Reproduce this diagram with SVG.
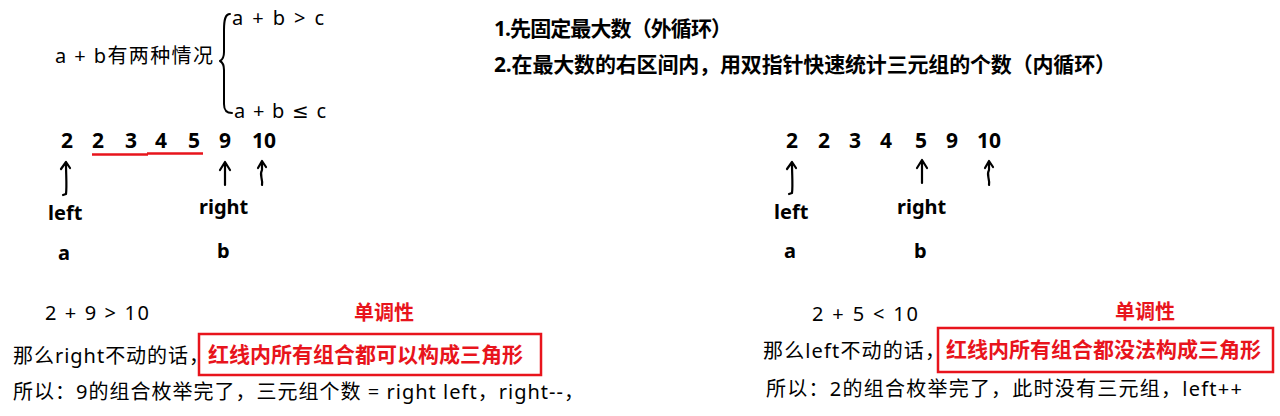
<svg xmlns="http://www.w3.org/2000/svg" width="1280" height="416" viewBox="0 0 1280 416">
<style>
text{font-family:"Noto Sans","Noto Sans CJK SC",sans-serif;fill:#000}
.r{font-size:20px}
.b{font-size:20px;font-weight:bold}
.st{font-size:21px;font-weight:bold}
.num{font-size:21px;font-weight:bold}
.red{fill:#e8141c;font-weight:bold;font-size:21px}
.box{fill:none;stroke:#e8141c;stroke-width:2.5}
.ul{stroke:#e8141c;stroke-width:2.5;fill:none}
.ar{fill:none;stroke:#000;stroke-width:2.2;stroke-linecap:round;stroke-linejoin:round}
.sym{font-family:"DejaVu Sans",sans-serif}
</style>
<rect width="1280" height="416" fill="#fff"/>
<g id="cases">
<text class="r" x="55" y="63" textLength="158">a + b有两种情况</text>
<path class="ar" d="M230,14 C225,14 224,20 224,30 L224,52 C224,58 222,60 220,61 C222,62 224,64 224,70 L224,104 C224,110 226,113 232,113" style="stroke-width:2"/>
<text class="r" x="232" y="25" textLength="92">a + b &gt; c</text>
<text class="r" x="234" y="118" textLength="92">a + b <tspan class="sym">≤</tspan> c</text>
</g>
<g id="steps">
<text class="st" x="494" y="36" textLength="238">1.先固定最大数（外循环）</text>
<text class="st" x="494" y="72" textLength="622">2.在最大数的右区间内，用双指针快速统计三元组的个数（内循环）</text>
</g>
<g id="left-array">
<text class="num" x="61" y="148">2</text>
<text class="num" x="92" y="148">2</text>
<text class="num" x="125" y="148">3</text>
<text class="num" x="155" y="148">4</text>
<text class="num" x="188" y="148">5</text>
<text class="num" x="219" y="148">9</text>
<text class="num" x="252" y="148">10</text>
<path class="ul" d="M92,154.5 L148,154.5 M147,153.5 L203,153.5"/>
<text class="b" x="48" y="220">left</text>
<text class="b" x="199" y="214">right</text>
<text class="b" x="58" y="260">a</text>
<text class="b" x="217" y="258">b</text>
</g>
<g id="right-array">
<text class="num" x="786" y="148">2</text>
<text class="num" x="818" y="148">2</text>
<text class="num" x="849" y="148">3</text>
<text class="num" x="880" y="148">4</text>
<text class="num" x="915" y="148">5</text>
<text class="num" x="946" y="148">9</text>
<text class="num" x="977" y="148">10</text>
<text class="b" x="774" y="219">left</text>
<text class="b" x="897" y="214">right</text>
<text class="b" x="784" y="258">a</text>
<text class="b" x="914" y="258">b</text>
</g>
<g id="connectors">
<path class="ar" d="M66,163 C66,175 67,186 66,194 L63,195 M61,169 L66,162 L70,168"/>
<path class="ar" d="M225,185 L225,163 M220,170 L225,162 L230,170"/>
<path class="ar" d="M262,185 C263,178 259,175 262,170 L262,161 M258,168 L262,161 L266,167"/>
<path class="ar" d="M792,163 C792,175 793,186 792,193 L789,194 M787,169 L792,162 L796,168"/>
<path class="ar" d="M922,183 L922,161 M917,168 L922,160 L927,168"/>
<path class="ar" d="M989,185 C990,178 986,175 989,170 L989,161 M985,168 L989,161 L993,167"/>
</g>
<g id="left-note">
<text class="r" x="45" y="320" textLength="104">2 + 9 &gt; 10</text>
<text class="red" x="354" y="320" style="font-size:20px">单调性</text>
<rect class="box" x="199" y="334" width="342" height="41"/>
<text class="r" x="13" y="363" textLength="196">那么right不动的话，</text>
<text class="red" x="208" y="362">红线内所有组合都可以构成三角形</text>
<text class="r" x="13" y="399" textLength="571">所以：9的组合枚举完了，三元组个数 = right left，right--，</text>
</g>
<g id="right-note">
<text class="r" x="812" y="321" textLength="106">2 + 5 &lt; 10</text>
<text class="red" x="1115" y="319" style="font-size:20px">单调性</text>
<rect class="box" x="938" y="328" width="335" height="44"/>
<text class="r" x="763" y="358" textLength="182">那么left不动的话，</text>
<text class="red" x="946" y="357">红线内所有组合都没法构成三角形</text>
<text class="r" x="766" y="396" textLength="476">所以：2的组合枚举完了，此时没有三元组，left++</text>
</g>
</svg>
